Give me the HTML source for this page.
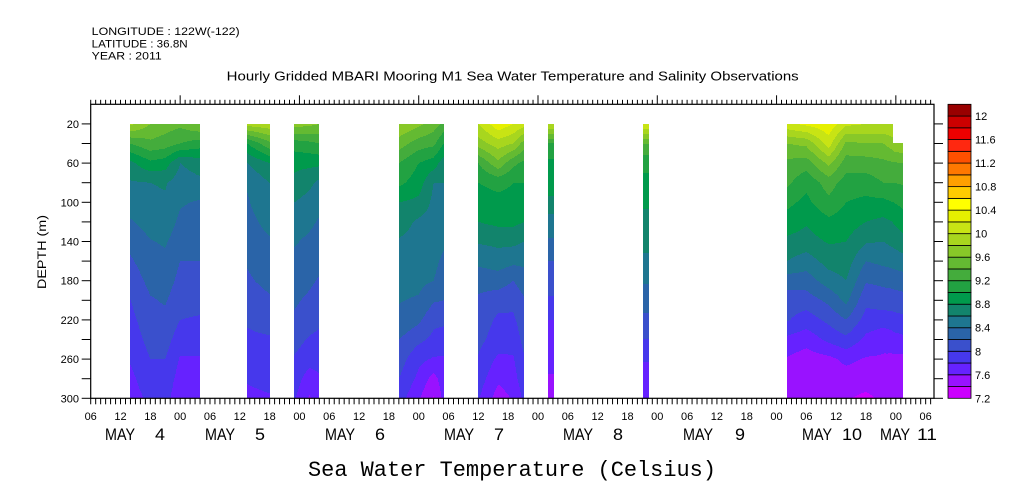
<!DOCTYPE html>
<html><head><meta charset="utf-8"><style>
html,body{margin:0;padding:0;background:#fff;}
svg{display:block;font-family:"Liberation Sans",sans-serif;}
</style></head><body>
<svg id="chart" width="1009" height="504" viewBox="0 0 1009 504" xmlns="http://www.w3.org/2000/svg">
<rect x="0" y="0" width="1009" height="504" fill="#fff"/>
<text x="91.7" y="35" font-size="11" textLength="148" lengthAdjust="spacingAndGlyphs">LONGITUDE : 122W(-122)</text>
<text x="91.7" y="47.5" font-size="11" textLength="96" lengthAdjust="spacingAndGlyphs">LATITUDE : 36.8N</text>
<text x="91.7" y="59.5" font-size="11" textLength="70" lengthAdjust="spacingAndGlyphs">YEAR : 2011</text>
<text x="226.7" y="80.5" font-size="12.5" textLength="572" lengthAdjust="spacingAndGlyphs">Hourly Gridded MBARI Mooring M1 Sea Water Temperature and Salinity Observations</text>
<text transform="translate(46,252) rotate(-90)" text-anchor="middle" font-size="11.5" textLength="74" lengthAdjust="spacingAndGlyphs">DEPTH (m)</text>
<text x="308" y="476" font-size="22" font-family="Liberation Mono, monospace" textLength="408" lengthAdjust="spacingAndGlyphs">Sea Water Temperature (Celsius)</text>
<g id="plot" shape-rendering="crispEdges"></g>
<g id="axes"></g>
<g id="cbar"></g>
</svg>
<script>
// ---- data ----
const depths = [20,40,60,80,100,120,140,160,180,200,220,240,260,280,300];
const binColors = ['#cc00ff','#9912ff','#6622ff','#4638ec','#3a50cc','#2a64a8','#1e7690','#12846c','#009a4c','#22a242','#44ac3c','#64ba32','#88c828','#a8d61e','#c8e414','#e6f000','#ffff00','#ffcc00','#ffa000','#ff7800','#ff5000','#ff2810','#ee0000','#cc0000','#990000'];
const levelMin = 7.2, levelStep = 0.2;
const cbarLabels = ['12','11.6','11.2','10.8','10.4','10','9.6','9.2','8.8','8.4','8','7.6','7.2'];
const cbarLabelValues = [12.0,11.6,11.2,10.8,10.4,10.0,9.6,9.2,8.8,8.4,8.0,7.6,7.2];
const depthTickLabels = [20,60,100,140,180,220,260,300];
const hourLabels = ['00','06','12','18'];
const dayNames = ['MAY','MAY','MAY','MAY','MAY','MAY','MAY','MAY'];
const dayNums = ['4','5','6','7','8','9','10','11'];
const dayLabelX = [105,205,325,444,563,683,802,880];
const dayNumX = [155,255,375,494,613,735,842,917];

// segment A (hours since May 4 00:00)
const segA_times = [14,18,21,24,28];
const segA_temps = [
 [9.85,9.2,8.75,8.58,8.5,8.38,8.27,8.17,8.08,8.0,7.94,7.88,7.82,7.75,7.7],
 [9.6,9.35,8.95,8.6,8.55,8.48,8.39,8.33,8.26,8.18,8.13,8.07,8.0,7.93,7.85],
 [9.5,9.3,8.9,8.62,8.57,8.5,8.42,8.36,8.3,8.22,8.15,8.08,8.0,7.92,7.86],
 [9.45,9.2,8.6,8.5,8.42,8.36,8.3,8.2,8.14,8.07,8.0,7.9,7.78,7.72,7.68],
 [9.6,9.1,8.7,8.55,8.38,8.33,8.27,8.2,8.13,8.06,7.98,7.9,7.78,7.72,7.67]];
const segB_times = [37.5,42];
const segB_temps = [
 [9.9,9.0,8.6,8.42,8.38,8.34,8.3,8.22,8.17,8.1,8.02,7.97,7.9,7.82,7.75],
 [9.95,9.35,8.8,8.6,8.54,8.46,8.38,8.32,8.26,8.17,8.07,7.98,7.92,7.86,7.78]];
const segC_times = [47,50,52];
const segC_temps = [
 [9.7,9.1,8.85,8.75,8.6,8.5,8.42,8.35,8.3,8.23,8.17,8.07,7.98,7.9,7.82],
 [9.65,9.15,8.85,8.65,8.52,8.44,8.36,8.3,8.24,8.16,8.08,7.98,7.88,7.7,7.58],
 [9.6,9.2,8.85,8.55,8.45,8.38,8.32,8.26,8.18,8.1,8.03,7.96,7.9,7.76,7.7]];
const segD_times = [68,72,75,77];
const segD_temps = [
 [9.8,9.5,9.2,9.05,8.8,8.7,8.58,8.52,8.46,8.41,8.36,8.2,8.1,8.0,7.9],
 [9.65,9.3,9.0,8.9,8.75,8.56,8.52,8.48,8.45,8.38,8.24,8.05,7.85,7.75,7.62],
 [9.5,9.25,8.9,8.6,8.55,8.52,8.5,8.45,8.4,8.22,8.05,7.95,7.78,7.52,7.38],
 [9.35,9.0,8.7,8.6,8.54,8.5,8.44,8.36,8.3,8.2,8.05,7.9,7.78,7.72,7.65]];
const segE_times = [84,88,91,93.2];
const segE_temps = [
 [10.0,9.7,9.2,9.0,8.92,8.8,8.62,8.45,8.27,8.17,8.12,8.06,7.98,7.9,7.82],
 [10.35,9.9,9.55,9.05,8.95,8.85,8.65,8.5,8.3,8.08,7.96,7.9,7.76,7.64,7.5],
 [10.2,9.8,9.25,9.0,8.95,8.85,8.65,8.45,8.2,8.06,7.96,7.88,7.78,7.72,7.62],
 [10.1,9.5,9.15,9.0,8.9,8.8,8.6,8.45,8.3,8.18,8.12,8.06,7.98,7.92,7.85]];
const segF_times = [98,99.2];
const segF_temps = [
 [10.0,9.2,8.95,8.9,8.75,8.5,8.38,8.2,8.08,7.98,7.8,7.74,7.66,7.58,7.5],
 [10.0,9.2,8.95,8.9,8.75,8.5,8.38,8.2,8.08,7.98,7.8,7.74,7.66,7.58,7.5]];
const segG_times = [117.1,118.3];
const segG_temps = [
 [10.2,9.4,9.05,8.95,8.82,8.76,8.66,8.56,8.42,8.3,8.14,8.0,7.82,7.7,7.65],
 [10.2,9.4,9.05,8.95,8.82,8.76,8.66,8.56,8.42,8.3,8.14,8.0,7.82,7.7,7.65]];
const segH_times = [146.1,150,154.5,158,162,165.5,167.3,167.5,169.4];
const segH_temps = [
 [10.15,9.6,9.35,9.25,9.05,8.92,8.75,8.6,8.3,8.1,8.02,7.75,7.58,7.5,7.45],
 [10.25,9.65,9.3,9.05,8.95,8.82,8.72,8.5,8.3,8.1,7.9,7.68,7.5,7.45,7.42],
 [10.35,10.1,9.65,9.3,9.15,8.95,8.82,8.68,8.5,8.25,8.05,7.85,7.55,7.5,7.45],
 [10.05,9.55,9.3,9.1,9.0,8.9,8.8,8.7,8.6,8.45,8.2,7.95,7.65,7.5,7.42],
 [10.0,9.6,9.3,9.1,8.95,8.8,8.62,8.4,8.22,8.05,7.92,7.75,7.58,7.5,7.35],
 [10.0,9.6,9.35,9.2,8.95,8.75,8.6,8.45,8.25,8.1,7.9,7.65,7.58,7.52,7.45],
 [10.0,9.7,9.38,9.2,9.0,8.8,8.65,8.48,8.27,8.1,7.92,7.7,7.56,7.5,7.45],
 [null,9.75,9.38,9.2,9.0,8.82,8.66,8.48,8.28,8.1,7.93,7.72,7.56,7.5,7.45],
 [null,9.8,9.4,9.22,9.05,8.9,8.72,8.52,8.3,8.12,7.95,7.75,7.55,7.48,7.45]];
const segments = [[segA_times,segA_temps],[segB_times,segB_temps],[segC_times,segC_temps],[segD_times,segD_temps],[segE_times,segE_temps],[segF_times,segF_temps],[segG_times,segG_temps],[segH_times,segH_temps]];

// ---- scales ----
const NS='http://www.w3.org/2000/svg';
const X0=90.7, HPX=4.97, Y0=104.3, DPX=0.98;
const xS = t => X0 + (t-6)*HPX;
const xInv = x => 6 + (x-X0)/HPX;
const yS = d => Y0 + d*DPX;
const yInv = y => (y-Y0)/DPX;
function mk(tag, attrs, parent){const e=document.createElementNS(NS,tag);for(const k in attrs)e.setAttribute(k,attrs[k]);parent.appendChild(e);return e;}

function profileAt(times,temps,t){
  if(t<=times[0]) return temps[0];
  if(t>=times[times.length-1]) return temps[times.length-1];
  let i=0; while(times[i+1]<t) i++;
  const f=(t-times[i])/(times[i+1]-times[i]);
  return depths.map((d,k)=>{const a=temps[i][k],b=temps[i+1][k];
    if(a===null||b===null){return f<0.5?a:b;} return a+(b-a)*f;});
}
function tempAt(prof,d){
  if(d<=depths[0]) return prof[0];
  if(d>=depths[depths.length-1]) return prof[depths.length-1];
  let k=Math.floor((d-depths[0])/20); const f=(d-depths[k])/20;
  const a=prof[k],b=prof[k+1];
  if(a===null||b===null) return null;
  return a+(b-a)*f;
}
function binOf(T){let b=Math.floor((T-levelMin)/levelStep);return Math.max(0,Math.min(binColors.length-1,b));}

const plot=document.getElementById('plot');
segments.forEach((seg,si)=>{
  const times=seg[0], temps=seg[1];
  const g=mk('g',{},plot);
  
  
  const xa=Math.round(xS(times[0])), xb=Math.round(xS(times[times.length-1]));
  const yTop=Math.round(yS(20)), yBot=Math.round(yS(300));
  for(let px=xa; px<Math.max(xb,xa+1); px++){
    const prof=profileAt(times,temps,xInv(px+0.5));
    let runStart=null, runBin=null;
    for(let py=yTop; py<=yBot; py++){
      const T=tempAt(prof,yInv(py+0.5));
      const b=(T===null)?null:binOf(T);
      if(b!==runBin){
        if(runBin!==null){const r=mk('rect',{x:px,y:runStart,width:1,height:py-runStart,fill:binColors[runBin]},g);
          
          }
        runStart=py; runBin=b;
      }
    }
    if(runBin!==null){const r=mk('rect',{x:px,y:runStart,width:1,height:yBot-runStart,fill:binColors[runBin]},g);
      
      }
  }
});

// ---- axes ----
const axes=document.getElementById('axes');
const XR=934, YB=yS(300);
const frame=mk('rect',{x:X0,y:Y0,width:XR-X0,height:YB-Y0,fill:'none',stroke:'#000','stroke-width':1.2},axes);


for(let h=6; h<=175; h++){
  const x=xS(h);
  const top=mk('line',{x1:x,x2:x,y1:Y0,y2:(h%24===0)?Y0-9:Y0-4.5,stroke:'#000','stroke-width':1},axes);
  
  
  const bt=mk('line',{x1:x,x2:x,y1:YB,y2:YB+6,stroke:'#000','stroke-width':1},axes);
  
  
  if(h%6===0){
    const t=mk('text',{x:x,y:420,'font-size':11,'text-anchor':'middle'},axes);
    t.textContent=hourLabels[(h%24)/6];
    
    
  }
}
for(let d=20; d<=300; d+=20){
  const y=yS(d);
  const l=mk('line',{x1:X0-9,x2:X0,y1:y,y2:y,stroke:'#000','stroke-width':1},axes);
  
  
  const r=mk('line',{x1:XR,x2:XR+9,y1:y,y2:y,stroke:'#000','stroke-width':1},axes);
  
  
}
depthTickLabels.forEach(d=>{
  const t=mk('text',{x:79,y:yS(d)+4,'font-size':11,'text-anchor':'end'},axes);
  t.textContent=String(d);
  
  
});
dayNames.forEach((n,i)=>{
  const t=mk('text',{x:dayLabelX[i],y:440,'font-size':17,textLength:30,lengthAdjust:'spacingAndGlyphs'},axes);
  t.textContent=n;
  
  
  const u=mk('text',{x:dayNumX[i],y:440,'font-size':17,textLength:dayNums[i].length*10,lengthAdjust:'spacingAndGlyphs'},axes);
  u.textContent=dayNums[i];
  
  
});

// ---- colorbar ----
const cbar=document.getElementById('cbar');
const CX=948, CW=23, CT=Y0, CB=YB, n=binColors.length, bh=(CB-CT)/n;
const cS = v => CB - (v-levelMin)/levelStep*bh;
binColors.forEach((c,i)=>{
  const r=mk('rect',{x:CX,y:CB-(i+1)*bh,width:CW,height:bh,fill:c,stroke:'#000','stroke-width':0.8},cbar);
  
  
});
cbarLabels.forEach((s,i)=>{
  const t=mk('text',{x:975,y:cS(cbarLabelValues[i])+4,'font-size':11},cbar);
  t.textContent=s;
  
  
});
</script>
</body></html>
